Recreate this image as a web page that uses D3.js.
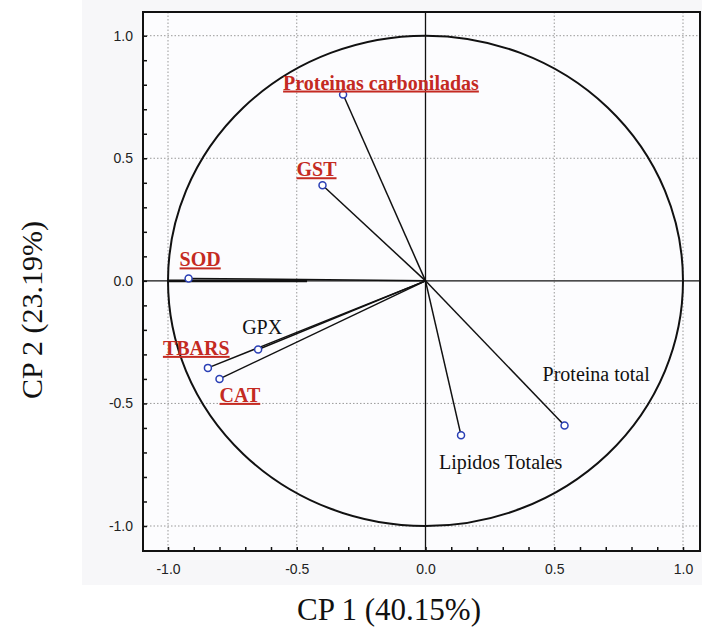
<!DOCTYPE html>
<html>
<head>
<meta charset="utf-8">
<script src="https://cdn.jsdelivr.net/npm/d3@7"></script>
<style>
  body { margin: 0; background: #fff; }
  .tick text { font-family: "Liberation Sans", Arial, sans-serif; font-size: 14px; fill: #222; }
  .grid line { stroke: #999; stroke-dasharray: 1.5,2; }
  .lbl-red { font-family: "Liberation Serif", "Times New Roman", serif; font-weight: bold; font-size: 20px; fill: #c42a22; text-decoration: underline; }
  .lbl-black { font-family: "Liberation Serif", "Times New Roman", serif; font-size: 20px; fill: #111; }
  .axis-title { font-family: "Liberation Serif", "Times New Roman", serif; fill: #111; }
</style>
</head>
<body>
<div id="chart"></div>
<script>
const width = 702, height = 630;

// variable names, loadings on CP1 and CP2
const variables = ['Proteinas carboniladas', 'GST', 'SOD', 'GPX', 'TBARS', 'CAT', 'Lipidos Totales', 'Proteina total'];
const cp1 = [-0.32, -0.40, -0.92, -0.65, -0.845, -0.80, 0.138, 0.54];
const cp2 = [0.76, 0.39, 0.01, -0.28, -0.355, -0.40, -0.63, -0.59];
const highlighted = [true, true, true, false, true, true, false, false];
// label offsets relative to the point (px)
const labelDx = [-60, -26, -9, -16, -45, 0, -22, -22];
const labelDy = [-5, -9, -12, -15, -13, 23, 34, -44];

const xTicks = [-1.0, -0.5, 0.0, 0.5, 1.0];
const yTicks = [-1.0, -0.5, 0.0, 0.5, 1.0];

const plot = { left: 143, right: 700, top: 12, bottom: 551 };

const xScale = d3.scaleLinear().domain([-1, 1]).range([168, 683]);
const yScale = d3.scaleLinear().domain([-1, 1]).range([526, 35.7]);

const svg = d3.select('#chart').append('svg')
    .attr('width', width)
    .attr('height', height);

// faint panel behind the graph
svg.append('rect')
    .attr('x', 82).attr('y', 0)
    .attr('width', width - 82).attr('height', 585)
    .attr('fill', '#f7f7f9');
svg.append('rect')
    .attr('x', plot.left).attr('y', plot.top)
    .attr('width', plot.right - plot.left).attr('height', plot.bottom - plot.top)
    .attr('fill', '#fcfcfe');

// dotted grid
const grid = svg.append('g').attr('class', 'grid');
grid.selectAll('.vx').data(xTicks.filter(d => d !== 0)).enter().append('line')
    .attr('x1', d => xScale(d)).attr('x2', d => xScale(d))
    .attr('y1', plot.top).attr('y2', plot.bottom);
grid.selectAll('.hy').data(yTicks.filter(d => d !== 0)).enter().append('line')
    .attr('y1', d => yScale(d)).attr('y2', d => yScale(d))
    .attr('x1', plot.left).attr('x2', plot.right);

const fmt = d => {
    const r = Math.round(d * 10) / 10;
    return (Math.round(r * 10) % 5 === 0) ? r.toFixed(1) : '';
};

// axes
const xAxis = svg.append('g')
    .attr('transform', 'translate(0,' + plot.bottom + ')')
    .call(d3.axisBottom(xScale).tickValues(d3.range(-1.0, 1.01, 0.1)).tickSize(-4).tickFormat(fmt));
xAxis.select('.domain').remove();
xAxis.selectAll('.tick line').attr('stroke', '#111').attr('stroke-width', 1.5);
xAxis.selectAll('.tick text').attr('dy', '1.45em');

const yAxis = svg.append('g')
    .attr('transform', 'translate(' + plot.left + ',0)')
    .call(d3.axisLeft(yScale).tickValues(d3.range(-1.0, 1.01, 0.1)).tickSize(-4).tickFormat(fmt));
yAxis.select('.domain').remove();
yAxis.selectAll('.tick line').attr('stroke', '#111').attr('stroke-width', 1.5);
yAxis.selectAll('.tick text').attr('x', -10);

// frame
svg.append('rect')
    .attr('x', plot.left).attr('y', plot.top)
    .attr('width', plot.right - plot.left).attr('height', plot.bottom - plot.top)
    .attr('fill', 'none').attr('stroke', '#111').attr('stroke-width', 2);

// zero lines
svg.append('line')
    .attr('x1', xScale(0)).attr('x2', xScale(0))
    .attr('y1', plot.top).attr('y2', plot.bottom)
    .attr('stroke', '#111').attr('stroke-width', 1.3);
svg.append('line')
    .attr('x1', plot.left).attr('x2', plot.right)
    .attr('y1', yScale(0)).attr('y2', yScale(0))
    .attr('stroke', '#111').attr('stroke-width', 1.3);
svg.append('line')
    .attr('x1', xScale(-1.0)).attr('x2', xScale(-0.46))
    .attr('y1', yScale(0)).attr('y2', yScale(0))
    .attr('stroke', '#111').attr('stroke-width', 2.6);

// correlation circle
svg.append('ellipse')
    .attr('cx', xScale(0)).attr('cy', yScale(0))
    .attr('rx', xScale(1) - xScale(0)).attr('ry', yScale(0) - yScale(1))
    .attr('fill', 'none').attr('stroke', '#111').attr('stroke-width', 2);

const data = variables.map((v, i) => ({ name: v, x: cp1[i], y: cp2[i], hi: highlighted[i], dx: labelDx[i], dy: labelDy[i] }));

// vectors
svg.selectAll('.vec').data(data).enter().append('line')
    .attr('x1', xScale(0)).attr('y1', yScale(0))
    .attr('x2', d => xScale(d.x)).attr('y2', d => yScale(d.y))
    .attr('stroke', '#111').attr('stroke-width', 1.5);

// points
svg.selectAll('.pt').data(data).enter().append('circle')
    .attr('cx', d => xScale(d.x)).attr('cy', d => yScale(d.y))
    .attr('r', 3.5)
    .attr('fill', '#fff').attr('stroke', '#2a3fb5').attr('stroke-width', 1.5);

// labels
svg.selectAll('.lbl').data(data).enter().append('text')
    .attr('class', d => d.hi ? 'lbl-red' : 'lbl-black')
    .attr('x', d => xScale(d.x) + d.dx)
    .attr('y', d => yScale(d.y) + d.dy)
    .text(d => d.name);

// axis titles
svg.append('text').attr('class', 'axis-title')
    .attr('x', 389).attr('y', 620)
    .attr('text-anchor', 'middle')
    .style('font-size', '31px')
    .text('CP 1 (40.15%)');
svg.append('text').attr('class', 'axis-title')
    .attr('transform', 'translate(42,310) rotate(-90)')
    .attr('text-anchor', 'middle')
    .style('font-size', '30px')
    .text('CP 2 (23.19%)');
</script>
</body>
</html>
